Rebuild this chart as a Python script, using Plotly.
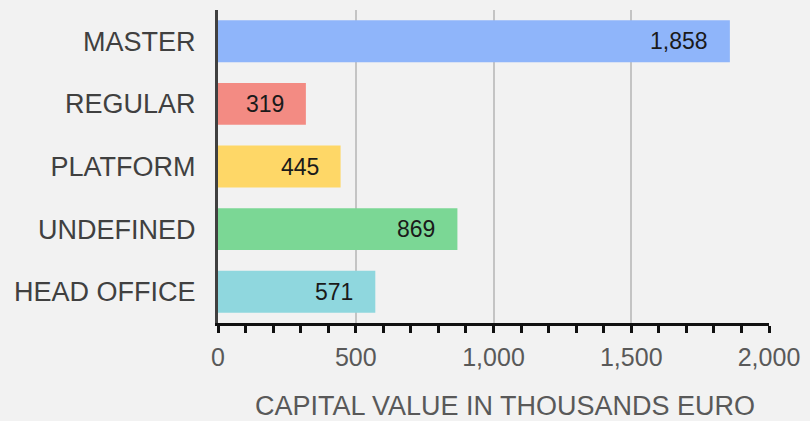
import plotly.graph_objects as go

categories = ["MASTER", "REGULAR", "PLATFORM", "UNDEFINED", "HEAD OFFICE"]
values = [1858, 319, 445, 869, 571]
colors = ["#8fb5fa", "#f38b83", "#fed767", "#7bd795", "#8fd7de"]
x_tickvals = [0, 500, 1000, 1500, 2000]
x_ticktext = ["0", "500", "1,000", "1,500", "2,000"]
x_title = "CAPITAL VALUE IN THOUSANDS EURO"

FONT = "Liberation Sans, Arial, sans-serif"

fig = go.Figure()
fig.add_trace(go.Bar(
    y=categories, x=values, orientation="h",
    marker=dict(color=colors, line=dict(width=0)),
    hoverinfo="skip",
))

for c, v in zip(categories, values):
    fig.add_annotation(
        x=v, y=c, xref="x", yref="y",
        text=f"{v:,}", showarrow=False,
        xanchor="right", yanchor="middle", xshift=-20,
        font=dict(family=FONT, size=23, color="#1a1a1a"),
    )

# axis title, placed as in the reference (slightly right of the plot centre)
fig.add_annotation(
    x=0.5, y=0, xref="paper", yref="paper",
    xanchor="center", yanchor="middle", xshift=11, yshift=-83,
    text=x_title, showarrow=False,
    font=dict(family=FONT, size=27, color="#595959"),
)

fig.update_layout(
    width=810, height=421,
    paper_bgcolor="#f2f2f2", plot_bgcolor="#f2f2f2",
    margin=dict(l=218, r=38, t=10, b=98),
    bargap=0.33,
    showlegend=False,
    font=dict(family=FONT),
)

fig.update_xaxes(
    range=[0, 2000],
    tickvals=x_tickvals, ticktext=x_ticktext,
    showgrid=True, gridcolor="#c4c4c4", gridwidth=2,
    zeroline=False,
    showline=True, linecolor="#111111", linewidth=3,
    ticks="outside", ticklen=7, tickwidth=2.5, tickcolor="#111111",
    minor=dict(dtick=100, tick0=0, ticks="outside", ticklen=7, tickwidth=2.5,
               tickcolor="#111111", showgrid=False),
    tickfont=dict(family=FONT, size=25, color="#595959"),
    ticklabelstandoff=3,
)

fig.update_yaxes(
    categoryorder="array", categoryarray=categories[::-1],
    showgrid=False, zeroline=False,
    showline=True, linecolor="#404040", linewidth=3,
    ticks="", ticklabelstandoff=14,
    tickfont=dict(family=FONT, size=27, color="#404040"),
)

fig.write_html(
    "out.html",
    config=dict(displayModeBar=False, responsive=False),
    post_script="document.body.style.margin='0';document.body.style.overflow='hidden';",
)
